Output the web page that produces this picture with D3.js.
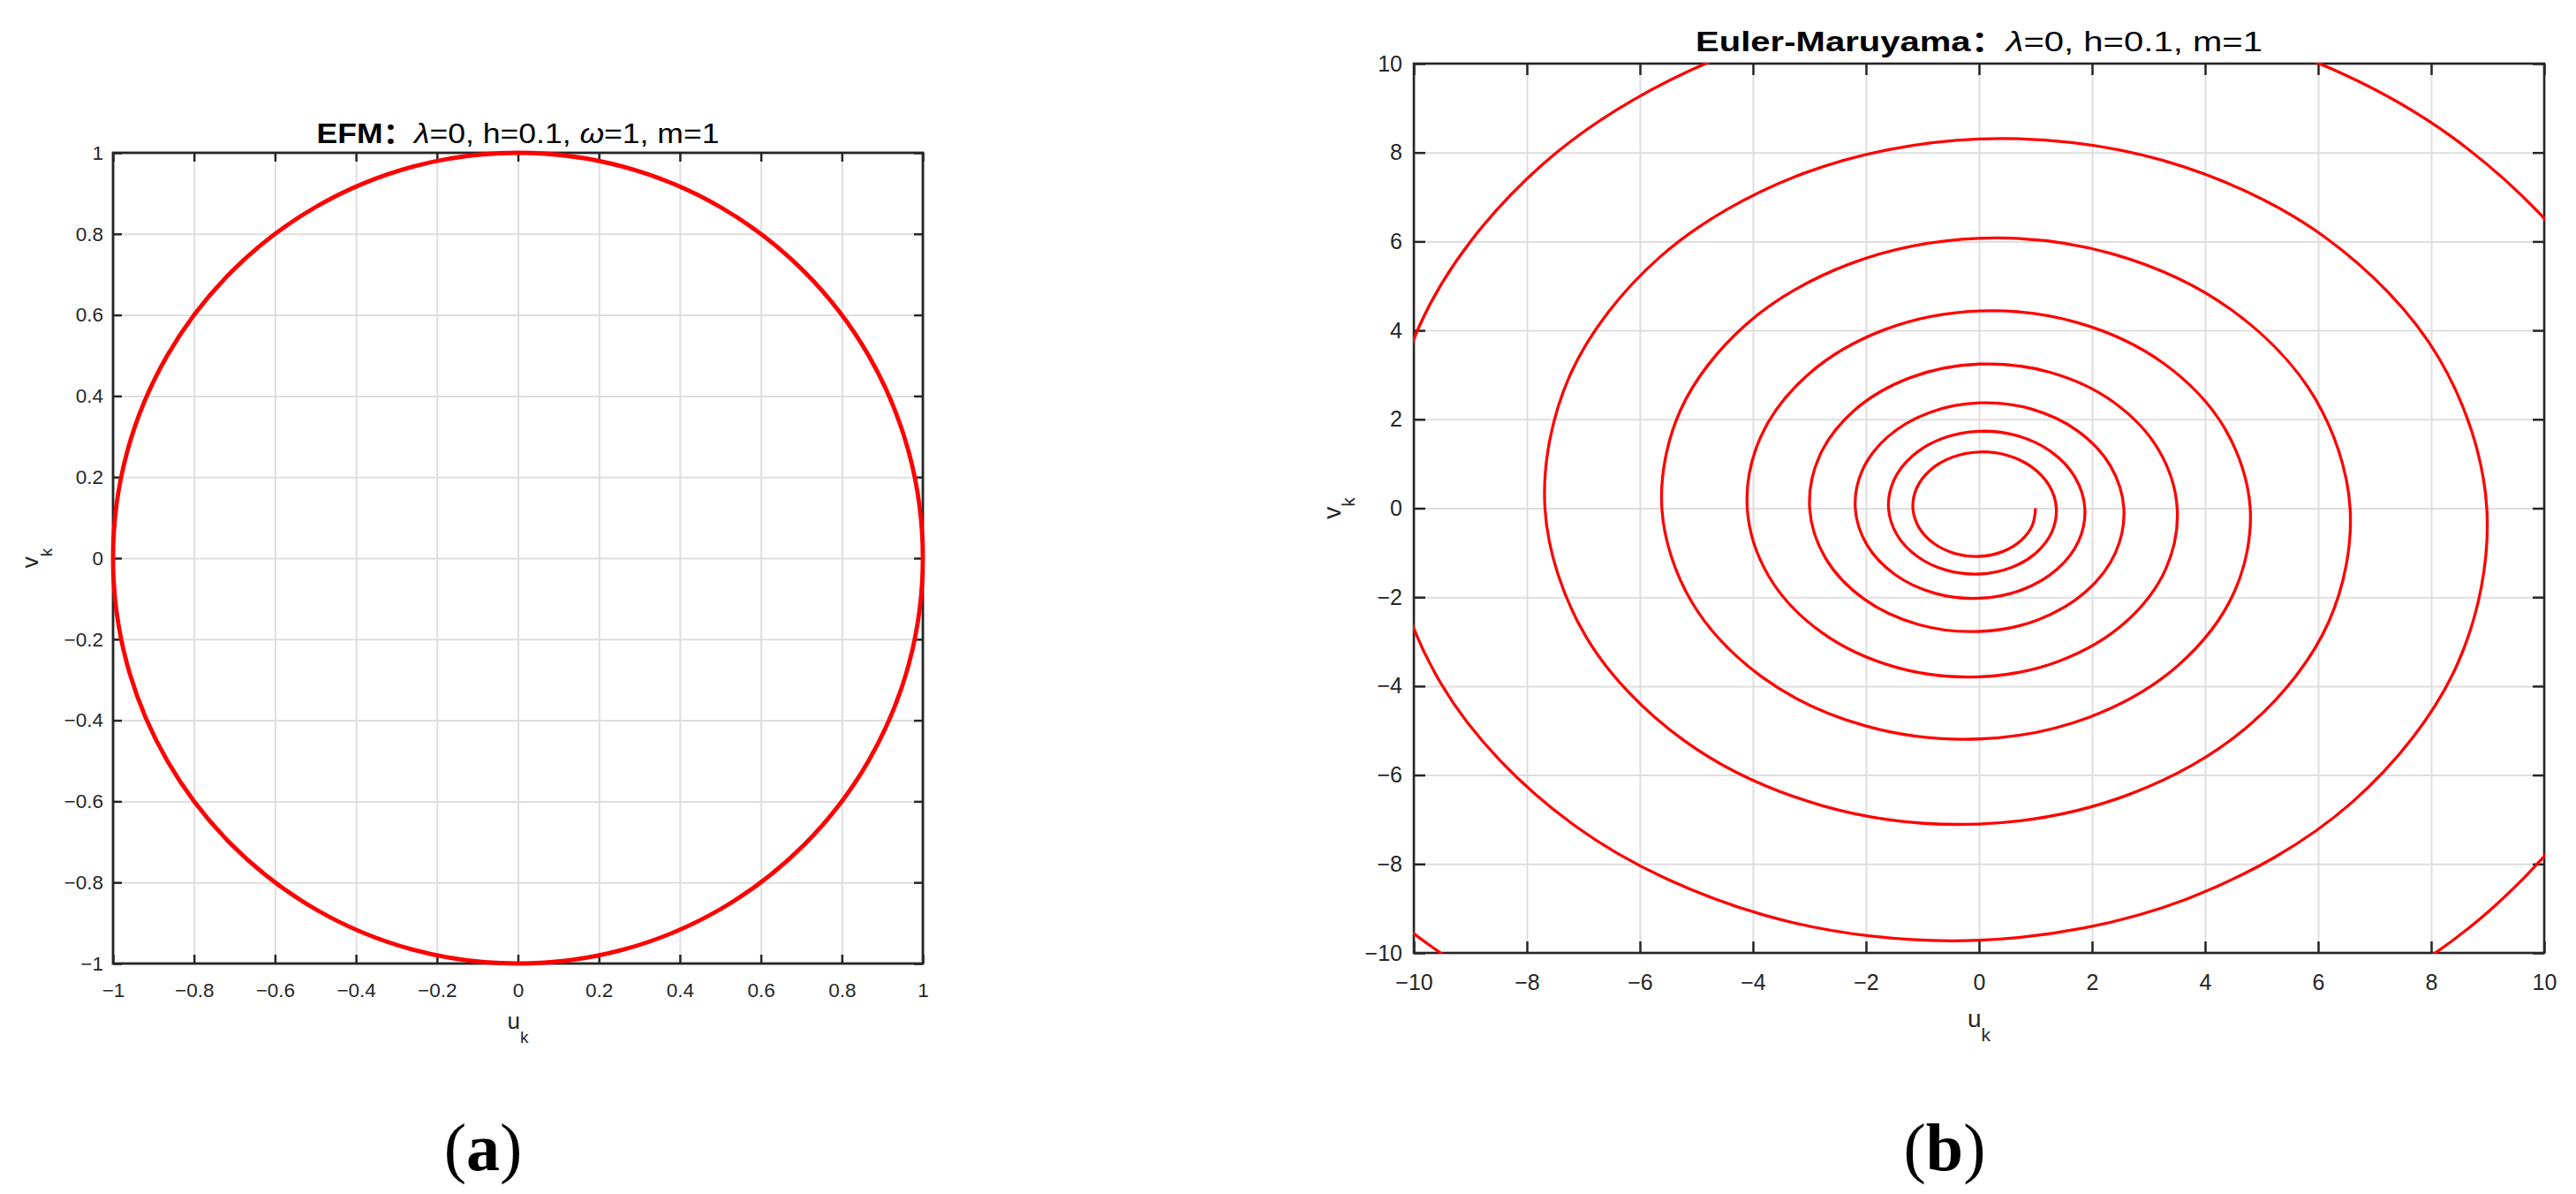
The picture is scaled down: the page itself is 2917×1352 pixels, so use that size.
<!DOCTYPE html>
<html><head><meta charset="utf-8">
<script src="https://cdn.jsdelivr.net/npm/d3@7/dist/d3.min.js"></script>
<style>body{margin:0;background:#fff}svg{display:block}</style>
</head><body>
<svg id="chart" width="2917" height="1352"></svg>
<script>
// ---------- DATA ----------
// (a) EFM trajectory (unit circle)
const circleU = [1, 0.966, 0.866, 0.707, 0.5, 0.259, 0, -0.259, -0.5, -0.707, -0.866, -0.966,
                 -1, -0.966, -0.866, -0.707, -0.5, -0.259, 0, 0.259, 0.5, 0.707, 0.866, 0.966];
const circleV = [0, -0.259, -0.5, -0.707, -0.866, -0.966, -1, -0.966, -0.866, -0.707, -0.5, -0.259,
                 0, 0.259, 0.5, 0.707, 0.866, 0.966, 1, 0.966, 0.866, 0.707, 0.5, 0.259];
// (b) Euler-Maruyama spiral
const spiralU = [
 1, 0.942, 0.735, 0.406, 0, -0.422, -0.795, -1.060, -1.170, -1.102, -0.860, -0.475, 0, 0.494, 0.930, 1.240,
 1.368, 1.289, 1.006, 0.555, 0, -0.578, -1.088, -1.450, -1.601, -1.508, -1.177, -0.650, 0, 0.676, 1.273, 1.696,
 1.872, 1.764, 1.377, 0.760, 0, -0.790, -1.489, -1.984, -2.190, -2.064, -1.611, -0.889, 0, 0.925, 1.742, 2.321,
 2.562, 2.414, 1.884, 1.040, 0, -1.081, -2.038, -2.715, -2.997, -2.824, -2.204, -1.216, 0, 1.265, 2.384, 3.176,
 3.506, 3.303, 2.578, 1.423, 0, -1.480, -2.789, -3.716, -4.101, -3.864, -3.016, -1.665, 0, 1.731, 3.262, 4.346,
 4.798, 4.520, 3.528, 1.947, 0, -2.025, -3.816, -5.084, -5.612, -5.288, -4.127, -2.278, 0, 2.369, 4.464, 5.948,
 6.565, 6.185, 4.828, 2.665, 0, -2.771, -5.222, -6.957, -7.680, -7.236, -5.648, -3.117, 0, 3.242, 6.108, 8.139,
 8.984, 8.464, 6.606, 3.646, 0, -3.792, -7.145, -9.520, -10.509, -9.901, -7.728, -4.265, 0, 4.436, 8.358, 11.137,
 12.293, 11.582, 9.040, 4.989, 0, -5.189, -9.777, -13.028, -14.380];
const spiralV = [
 0, -0.390, -0.735, -0.980, -1.082, -1.019, -0.795, -0.439, 0, 0.457, 0.860, 1.146, 1.265, 1.192, 0.930, 0.513,
 0, -0.534, -1.006, -1.341, -1.480, -1.394, -1.088, -0.601, 0, 0.625, 1.177, 1.568, 1.731, 1.631, 1.273, 0.703,
 0, -0.731, -1.377, -1.835, -2.025, -1.908, -1.489, -0.822, 0, 0.855, 1.611, 2.146, 2.369, 2.232, 1.742, 0.962,
 0, -1.000, -1.884, -2.511, -2.771, -2.611, -2.038, -1.125, 0, 1.170, 2.204, 2.937, 3.242, 3.054, 2.384, 1.316,
 0, -1.368, -2.578, -3.435, -3.792, -3.573, -2.789, -1.539, 0, 1.601, 3.016, 4.019, 4.436, 4.179, 3.262, 1.800,
 0, -1.872, -3.528, -4.701, -5.189, -4.889, -3.816, -2.106, 0, 2.190, 4.127, 5.499, 6.070, 5.719, 4.464, 2.464,
 0, -2.562, -4.828, -6.433, -7.101, -6.690, -5.222, -2.882, 0, 2.997, 5.648, 7.525, 8.306, 7.826, 6.108, 3.371,
 0, -3.506, -6.606, -8.802, -9.716, -9.154, -7.145, -3.943, 0, 4.101, 7.728, 10.297, 11.366, 10.709, 8.358, 4.613,
 0, -4.797, -9.040, -12.045, -13.296, -12.527, -9.777, -5.396, 0];
// tick values
const ticksA = [-1, -0.8, -0.6, -0.4, -0.2, 0, 0.2, 0.4, 0.6, 0.8, 1];
const ticksB = [-10, -8, -6, -4, -2, 0, 2, 4, 6, 8, 10];
const domainA = [-1, 1];
const domainB = [-10, 10];

// ---------- DRAW ----------
const svg = d3.select("#chart");
const AX = "#262626", GRID = "#dedede", RED = "#ff0000";
const FONT = "'Liberation Sans', Arial, Helvetica, sans-serif";
const CJK = "'Noto Sans CJK SC', 'Liberation Sans', sans-serif";
const fmt = t => (t < 0 ? "\u2212" : "") + String(Math.abs(t));

function panel(cfg) {
  const x = d3.scaleLinear().domain(cfg.domain).range([cfg.x0, cfg.x1]);
  const y = d3.scaleLinear().domain(cfg.domain).range([cfg.y1, cfg.y0]);
  const g = svg.append("g");
  const w = cfg.x1 - cfg.x0, h = cfg.y1 - cfg.y0;

  // grid
  const grid = g.append("g");
  grid.append("g").attr("transform", `translate(0,${cfg.y1})`)
    .call(d3.axisBottom(x).tickValues(cfg.ticks).tickSize(-h).tickFormat(""));
  grid.append("g").attr("transform", `translate(${cfg.x0},0)`)
    .call(d3.axisLeft(y).tickValues(cfg.ticks).tickSize(-w).tickFormat(""));
  grid.selectAll(".domain").remove();
  grid.selectAll("line").attr("stroke", GRID).attr("stroke-width", cfg.gridW);

  // axes with inward ticks
  const ax = g.append("g");
  ax.append("g").attr("transform", `translate(0,${cfg.y1})`)
    .call(d3.axisBottom(x).tickValues(cfg.ticks).tickSize(-cfg.tickLen).tickPadding(cfg.padX).tickFormat(fmt));
  ax.append("g").attr("transform", `translate(${cfg.x0},0)`)
    .call(d3.axisLeft(y).tickValues(cfg.ticks).tickSize(-cfg.tickLen).tickPadding(cfg.padY).tickFormat(fmt));
  ax.append("g").attr("transform", `translate(0,${cfg.y0})`)
    .call(d3.axisTop(x).tickValues(cfg.ticks).tickSize(-cfg.tickLen).tickFormat(""));
  ax.append("g").attr("transform", `translate(${cfg.x1},0)`)
    .call(d3.axisRight(y).tickValues(cfg.ticks).tickSize(-cfg.tickLen).tickFormat(""));
  ax.selectAll(".domain").remove();
  ax.selectAll("line").attr("stroke", AX).attr("stroke-width", cfg.tickW);
  ax.selectAll("text").attr("fill", AX).attr("font-family", FONT).attr("font-size", cfg.tickFont);
  ax.selectAll("g").attr("font-family", null).attr("font-size", null);
  g.append("rect").attr("x", cfg.x0).attr("y", cfg.y0).attr("width", w).attr("height", h)
    .attr("fill", "none").attr("stroke", AX).attr("stroke-width", cfg.boxW);

  // data
  const clipId = "clip" + cfg.id;
  svg.append("defs").append("clipPath").attr("id", clipId)
    .append("rect").attr("x", cfg.x0 - 1).attr("y", cfg.y0 - 1).attr("width", w + 2).attr("height", h + 2);
  const pts = cfg.u.map((d, i) => [d, cfg.v[i]]);
  const line = d3.line().x(d => x(d[0])).y(d => y(d[1])).curve(cfg.curve);
  g.append("path").datum(pts).attr("d", line)
    .attr("fill", "none").attr("stroke", RED).attr("stroke-width", cfg.lineW)
    .attr("stroke-linejoin", "round")
    .attr("clip-path", cfg.clip ? `url(#${clipId})` : null);

  // axis labels
  const cx = (cfg.x0 + cfg.x1) / 2, cy = (cfg.y0 + cfg.y1) / 2;
  const ul = g.append("text").attr("x", cx).attr("y", cfg.uBase).attr("text-anchor", "middle")
    .attr("font-family", FONT).attr("font-size", cfg.labelFont).attr("fill", AX);
  ul.append("tspan").text("u");
  ul.append("tspan").attr("font-size", cfg.subFont).attr("dy", cfg.subDy).text("k");
  const vl = g.append("text").attr("transform", `translate(${cfg.vBase},${cy}) rotate(-90)`)
    .attr("text-anchor", "middle").attr("font-family", FONT).attr("font-size", cfg.labelFont).attr("fill", AX);
  vl.append("tspan").text("v");
  vl.append("tspan").attr("font-size", cfg.subFont).attr("dy", cfg.subDy).text("k");

  // title
  const t = g.append("text").attr("text-anchor", "middle")
    .attr("font-family", FONT).attr("font-size", cfg.titleFont).attr("fill", "#000");
  cfg.title.forEach(p => {
    const s = t.append("tspan").text(p.s);
    if (p.b) s.attr("font-weight", "bold");
    if (p.i) s.attr("font-style", "italic");
    if (p.cjk) s.attr("font-family", CJK);
  });
  const bb = t.node().getBBox();
  const sx = cfg.titleW / bb.width;
  t.attr("transform", `translate(${cx},${cfg.titleBase}) scale(${sx},1)`);

  // panel tag
  const tag = svg.append("text").attr("x", cfg.tagX).attr("y", 1325).attr("text-anchor", "middle")
    .attr("font-family", "'Liberation Serif', 'Times New Roman', serif").attr("font-size", 76).attr("fill", "#000");
  tag.append("tspan").text("(");
  tag.append("tspan").attr("font-weight", "bold").text(cfg.tag);
  tag.append("tspan").text(")");
}

panel({
  id: "A", x0: 128, x1: 1045, y0: 173, y1: 1091, domain: domainA, ticks: ticksA,
  u: circleU, v: circleV, curve: d3.curveCatmullRomClosed.alpha(0.5), clip: false, lineW: 4.8,
  tickLen: 10, tickW: 2.5, boxW: 2.8, gridW: 2, tickFont: 22.5, padX: 22, padY: 11,
  labelFont: 26, subFont: 19, subDy: 16, uBase: 1165, vBase: 43,
  title: [{s: "EFM", b: true}, {s: "\uFF1A", b: true, cjk: true}, {s: "\u03BB", i: true}, {s: "=0, h=0.1, "},
          {s: "\u03C9", i: true}, {s: "=1, m=1"}],
  titleFont: 32, titleW: 456, titleBase: 162, tag: "a", tagX: 547
});
panel({
  id: "B", x0: 1601, x1: 2881, y0: 72, y1: 1079, domain: domainB, ticks: ticksB,
  u: spiralU, v: spiralV, curve: d3.curveCatmullRom.alpha(0.5), clip: true, lineW: 3.3,
  tickLen: 13, tickW: 2.5, boxW: 2.6, gridW: 2, tickFont: 25, padX: 24, padY: 13,
  labelFont: 28, subFont: 21, subDy: 16, uBase: 1163, vBase: 1518,
  title: [{s: "Euler-Maruyama", b: true}, {s: "\uFF1A", b: true, cjk: true}, {s: "\u03BB", i: true}, {s: "=0, h=0.1, m=1"}],
  titleFont: 32, titleW: 642, titleBase: 58, tag: "b", tagX: 2202
});
</script>
</body></html>
